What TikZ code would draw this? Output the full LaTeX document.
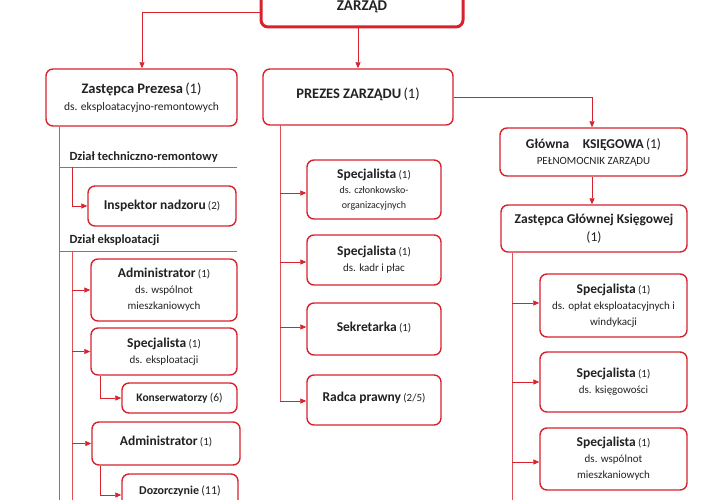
\documentclass[tikz,border=0pt]{standalone}
\usepackage{fontspec}
\setmainfont{Carlito}
\usetikzlibrary{arrows.meta}
\definecolor{rd}{HTML}{D7232E}
\definecolor{tx}{HTML}{222222}
\newcommand\tb[2]{{\fontsize{#1}{#1}\selectfont\bfseries #2}}
\newcommand\tn[2]{{\fontsize{#1}{#1}\selectfont #2}}
\begin{document}
\begin{tikzpicture}[x=1pt,y=-1pt,
  box/.style={draw=rd,line width=1.4pt,rounded corners=7pt,fill=white,text=tx,align=center,inner sep=0pt},
  ln/.style={draw=rd!80,line width=0.7pt},
  ar/.style={ln,-{Triangle[length=6pt,width=5pt]},rd}]
\useasboundingbox (0,0) rectangle (720,500);
\newcommand\bx[6]{\node[box,minimum width=#4-#2,minimum height=#5-#3] (#1) at ({(#2+#4)/2},{(#3+#5)/2}) {#6};}
% top
\node[box,line width=3pt,minimum width=202,minimum height=40] (zar) at (362,7) {\raisebox{-5pt}{\tb{15}{ZARZĄD}}};
\bx{zp}{46}{69}{237}{126}{\tb{14.5}{Zastępca Prezesa} \tn{14.5}{(1)}\\[5pt] \tn{11.5}{ds. eksploatacyjno-remontowych}}
\bx{pz}{263}{69}{453}{125}{\raisebox{8pt}{\tb{14.5}{PREZES ZARZĄDU} \tn{14.5}{(1)}}}
\bx{gk}{500}{128}{687}{176}{\tb{13.5}{Główna\quad KSIĘGOWA} \tn{13.5}{(1)}\\[4pt] \tn{11}{PEŁNOMOCNIK ZARZĄDU}}
\bx{zg}{501}{205}{687}{252}{\tb{13.5}{Zastępca Głównej Księgowej}\\[5pt] \tn{13.5}{(1)}}
\draw[ar] (zar.west|-0,12) -| (zp.north-|142,0);
\draw[ar] (zar.south-|358,0) -- (pz.north-|358,0);
\draw[ar] (pz.east|-0,97) -| (gk.north-|592,0);
\draw[ar] (gk.south-|592,0) -- (zg.north-|592,0);
% left column
\node[anchor=west,text=tx] (dt) at (66,157) {\tb{12.5}{Dział techniczno-remontowy}};
\node[anchor=west,text=tx] (de) at (66,240) {\tb{12.5}{Dział eksploatacji}};
\coordinate (l1) at (59,500);
\draw[ln] (zp.south-|l1) -- (l1);
\draw[ln] (59,167) coordinate (h1) -- (237,167) coordinate (h1e);
\draw[ln] (59,251) coordinate (h2) -- (237,251) coordinate (h2e);
\bx{in}{88}{186}{236}{226}{\tb{13.5}{Inspektor nadzoru} \tn{11}{(2)}}
\draw[ar] (72,167) coordinate (c1) |- (in.west);
\bx{a1}{91}{259}{237}{321}{\tb{13.5}{Administrator} \tn{11}{(1)}\\[4pt] \tn{11}{ds. wspólnot}\\[4pt] \tn{11}{mieszkaniowych}}
\bx{s1}{91}{328}{237}{375}{\tb{13.5}{Specjalista} \tn{11}{(1)}\\[4pt] \tn{11}{ds. eksploatacji}}
\bx{ko}{122}{383}{237}{413}{\tb{11.5}{Konserwatorzy} \tn{11.5}{(6)}}
\bx{a2}{92}{422}{240}{465}{\raisebox{6pt}{\tb{13.5}{Administrator} \tn{11}{(1)}}}
\bx{dz}{122}{474}{238}{512}{\raisebox{6pt}{\tb{12}{Dozorczynie} \tn{12}{(11)}}}
\coordinate (c2) at (72,251); \coordinate (c2e) at (72,500);
\draw[ln] (c2) -- (c2e);
\draw[ar] (c2|-a1.west) -- (a1.west);
\draw[ar] (c2|-s1.west) -- (s1.west);
\draw[ar] (c2|-a2.west) -- (a2.west);
\draw[ar] (s1.south-|100,0) |- (ko.west);
\draw[ar] (a2.south-|100,0) |- (dz.west|-0,495);
% middle
\bx{m1}{307}{160}{441}{219}{\tb{13.5}{Specjalista} \tn{11}{(1)}\\[3pt] \tn{10}{ds. członkowsko-}\\[3pt] \tn{10}{organizacyjnych}}
\bx{m2}{307}{235}{441}{285}{\tb{13.5}{Specjalista} \tn{11}{(1)}\\[4pt] \tn{11}{ds. kadr i płac}}
\bx{m3}{307}{303}{441}{355}{\raisebox{5pt}{\tb{13.5}{Sekretarka} \tn{11}{(1)}}}
\bx{m4}{307}{375}{441}{425}{\raisebox{6pt}{\tb{13.5}{Radca prawny} \tn{11}{(2/5)}}}
\coordinate (mt) at (280,125); \coordinate (mb) at (280,401);
\draw[ln] (mt) -- (mb);
\draw[ar] (280,193) -- (m1.west|-0,193);
\draw[ar] (280,262) -- (m2.west|-0,262);
\draw[ar] (280,327) -- (m3.west|-0,327);
\draw[ar] (mb) -- (m4.west|-0,401);
% right
\bx{r1}{540}{274}{687}{337}{\tb{13.5}{Specjalista} \tn{11}{(1)}\\[4pt] \tn{11}{ds. opłat eksploatacyjnych i}\\[4pt] \tn{11}{windykacji}}
\bx{r2}{540}{352}{687}{412}{\tb{13.5}{Specjalista} \tn{11}{(1)}\\[4pt] \tn{11}{ds. księgowości}}
\bx{r3}{540}{428}{687}{490}{\tb{13.5}{Specjalista} \tn{11}{(1)}\\[4pt] \tn{11}{ds. wspólnot}\\[4pt] \tn{11}{mieszkaniowych}}
\coordinate (rt) at (512,252); \coordinate (rb) at (512,500);
\draw[ln] (zg.south-|rt) -- (rb);
\draw[ar] (rt|-0,303) -- (r1.west|-0,303);
\draw[ar] (rt|-0,382) -- (r2.west|-0,382);
\draw[ar] (rt|-0,462) -- (r3.west|-0,462);
\end{tikzpicture}
\end{document}
